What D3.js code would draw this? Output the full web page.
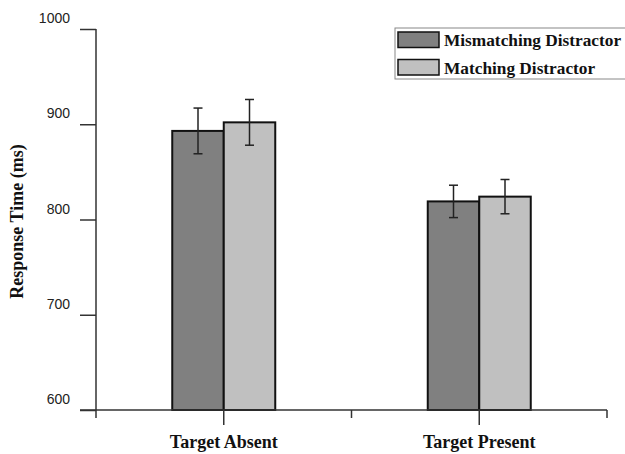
<!DOCTYPE html>
<html>
<head>
<meta charset="utf-8">
<script src="https://cdn.jsdelivr.net/npm/d3@7"></script>
<style>
  body { margin: 0; background: #fff; }
  svg { display: block; }
</style>
</head>
<body>
<svg id="chart"></svg>
<script>
// values
const categories = ['Target Absent', 'Target Present'];
const series = ['Mismatching Distractor', 'Matching Distractor'];
const means = [[893, 902], [819, 824]];
const errors = [[24, 24], [17, 18]];
const yTicks = [600, 700, 800, 900, 1000];

const width = 625, height = 454;
const margin = {top: 29, left: 96, right: 18, bottom: 44};
const colors = ['#808080', '#c0c0c0'];

const svg = d3.select('#chart')
  .attr('width', width)
  .attr('height', height);

const y = d3.scaleLinear()
  .domain([600, 1000])
  .range([height - margin.bottom, margin.top]);

const x = d3.scaleBand()
  .domain(categories)
  .range([margin.left, width - margin.right])
  .padding(0);

// the two bars sit right next to each other around the category centre
const barW = 51.5;
const xs = d3.scaleBand()
  .domain(series)
  .range([-barW, barW]);

const y0 = y(600);

// y axis, labels sit a little above their ticks like the original
const yAxis = svg.append('g')
  .attr('transform', `translate(${margin.left},0)`)
  .call(d3.axisLeft(y).tickValues(yTicks).tickFormat(d3.format('d')).tickSize(16));
yAxis.select('.domain').remove();
yAxis.selectAll('.tick line').attr('stroke', '#333').attr('stroke-width', 1.5);
yAxis.selectAll('.tick text')
  .attr('dy', '-0.45em')
  .attr('x', -26)
  .attr('fill', '#222')
  .style('font-family', 'Liberation Sans, Arial, sans-serif')
  .style('font-size', '14px');

svg.append('line')
  .attr('x1', margin.left).attr('x2', margin.left)
  .attr('y1', y(1000)).attr('y2', y0 + 8)
  .attr('stroke', '#333').attr('stroke-width', 1.5);

// bars
const groups = svg.selectAll('g.cat')
  .data(categories)
  .join('g')
  .attr('class', 'cat')
  .attr('transform', d => `translate(${x(d) + x.bandwidth() / 2},0)`);

groups.selectAll('rect')
  .data((d, i) => series.map((s, j) => ({s, j, v: means[i][j], e: errors[i][j]})))
  .join('rect')
  .attr('x', d => xs(d.s))
  .attr('width', xs.bandwidth())
  .attr('y', d => y(d.v))
  .attr('height', d => y0 - y(d.v))
  .attr('fill', d => colors[d.j])
  .attr('stroke', '#111')
  .attr('stroke-width', 2);

// error bars
const err = groups.selectAll('g.err')
  .data((d, i) => series.map((s, j) => ({s, j, v: means[i][j], e: errors[i][j]})))
  .join('g')
  .attr('class', 'err')
  .attr('transform', d => `translate(${xs(d.s) + xs.bandwidth() / 2},0)`)
  .attr('stroke', '#222')
  .attr('stroke-width', 1.5);

err.append('line')
  .attr('y1', d => y(d.v + d.e)).attr('y2', d => y(d.v - d.e));
err.append('line')
  .attr('x1', -4.5).attr('x2', 4.5)
  .attr('y1', d => y(d.v + d.e)).attr('y2', d => y(d.v + d.e));
err.append('line')
  .attr('x1', -4.5).attr('x2', 4.5)
  .attr('y1', d => y(d.v - d.e)).attr('y2', d => y(d.v - d.e));

// x axis
const xAxis = svg.append('g')
  .attr('transform', `translate(0,${y0})`)
  .call(d3.axisBottom(x).tickSize(15));
xAxis.select('.domain').remove();
xAxis.selectAll('.tick line').attr('stroke', '#333').attr('stroke-width', 1.5);
xAxis.selectAll('.tick text')
  .attr('y', 38)
  .attr('dy', 0)
  .attr('fill', '#111')
  .style('font-family', 'Liberation Serif, Times New Roman, serif')
  .style('font-weight', 'bold')
  .style('font-size', '18px');

svg.append('line')
  .attr('x1', margin.left - 16).attr('x2', x.range()[1])
  .attr('y1', y0).attr('y2', y0)
  .attr('stroke', '#333').attr('stroke-width', 1.5);

// short ticks on the category boundaries
const bounds = categories.map(c => x(c)).concat([x.range()[1]]);
svg.selectAll('line.bound')
  .data(bounds.slice(1))
  .join('line')
  .attr('class', 'bound')
  .attr('x1', d => d).attr('x2', d => d)
  .attr('y1', y0).attr('y2', y0 + 8)
  .attr('stroke', '#333').attr('stroke-width', 1.5);

// y title
svg.append('text')
  .attr('transform', `translate(23,${(y(1000) + y0) / 2 + 2}) rotate(-90)`)
  .attr('text-anchor', 'middle')
  .attr('fill', '#111')
  .style('font-family', 'Liberation Serif, Times New Roman, serif')
  .style('font-weight', 'bold')
  .style('font-size', '18px')
  .text('Response Time (ms)');

// legend box runs off the right edge like the original
const legend = svg.append('g').attr('transform', 'translate(395,28)');
legend.append('rect')
  .attr('width', 250).attr('height', 51)
  .attr('fill', '#fff')
  .attr('stroke', '#888').attr('stroke-width', 1);

const items = legend.selectAll('g.item')
  .data(series)
  .join('g')
  .attr('class', 'item')
  .attr('transform', (d, i) => `translate(3,${4 + i * 27.5})`);
items.append('rect')
  .attr('width', 41).attr('height', 15.5)
  .attr('fill', (d, i) => colors[i])
  .attr('stroke', '#111').attr('stroke-width', 1.5);
items.append('text')
  .attr('x', 46).attr('y', 14)
  .attr('fill', '#111')
  .style('font-family', 'Liberation Serif, Times New Roman, serif')
  .style('font-weight', 'bold')
  .style('font-size', '17.3px')
  .text(d => d);
</script>
</body>
</html>
